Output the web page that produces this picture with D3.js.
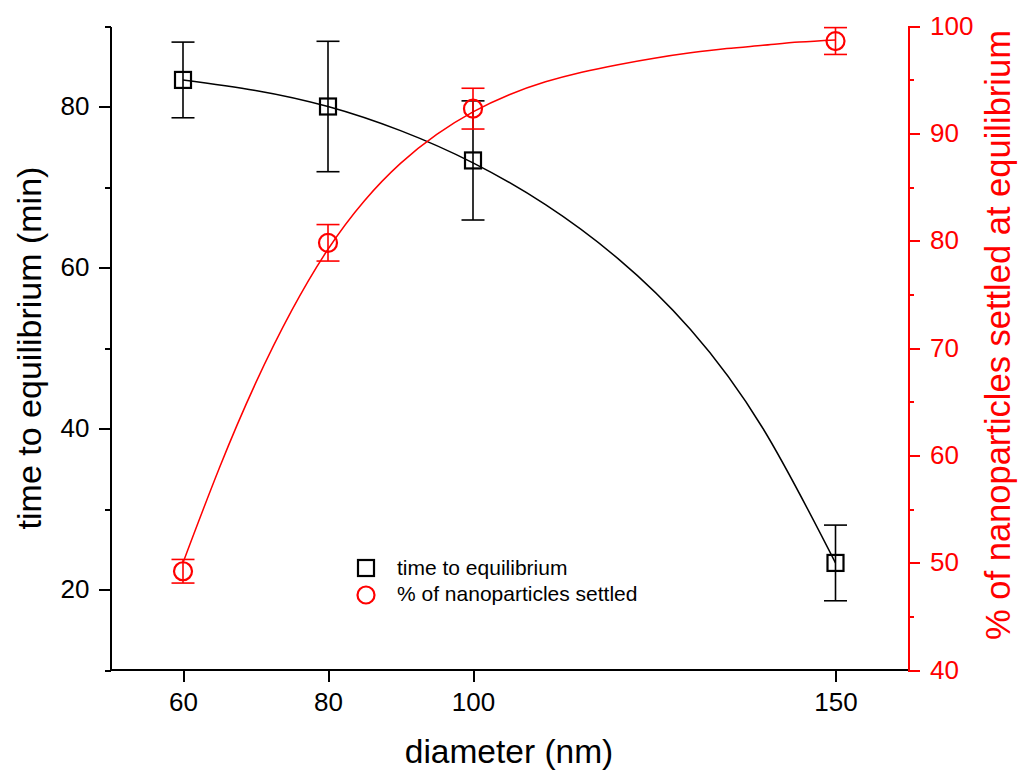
<!DOCTYPE html>
<html>
<head>
<meta charset="utf-8">
<script src="https://cdn.jsdelivr.net/npm/d3@7"></script>
<style>
  html, body { margin: 0; padding: 0; background: #fff; }
  svg { display: block; font-family: "Liberation Sans", Arial, sans-serif; }
</style>
</head>
<body>
<svg id="chart" width="1019" height="771"></svg>
<script>
// ---- data ----
const diameters = [60, 80, 100, 150];
const timeToEq = [83.3, 80.0, 73.3, 23.3];
const timeErr = [4.7, 8.1, 7.4, 4.7];
const settled = [49.2, 79.8, 92.3, 98.6];
const settledErr = [1.1, 1.7, 1.9, 1.25];

// fitted curves at evenly spaced diameters
const timeFitX = [60, 70, 80, 90, 100, 110, 120, 130, 140, 150];
const timeFitY = [83.3, 82.0, 80.0, 77.0, 73.0, 67.8, 61.1, 52.3, 40.0, 23.3];
const settledFitX = [60, 65, 70, 75, 80, 85, 90, 95, 100, 105, 110, 115, 120, 125, 130, 135, 140, 145, 150];
const settledFitY = [50.0, 58.8, 66.7, 73.5, 79.2, 83.7, 87.2, 89.9, 92.0, 93.6, 94.8, 95.7, 96.4, 97.0, 97.5, 97.9, 98.2, 98.5, 98.7];

const xTicks = [60, 80, 100, 150];
const yLeftMajor = [20, 40, 60, 80];
const yLeftMinor = [10, 30, 50, 70, 90];
const yRightMajor = [40, 50, 60, 70, 80, 90, 100];
const yRightMinor = [45, 55, 65, 75, 85, 95];

const RED = "#ff0000";

const svg = d3.select("#chart");

const x = d3.scaleLinear().domain([50, 160]).range([110.5, 908]);
const yL = d3.scaleLinear().domain([10, 90]).range([670, 26]);
const yR = d3.scaleLinear().domain([40, 100]).range([670, 26]);

const tickFont = "26px";

// ---- axes ----
const gx = svg.append("g").attr("transform", `translate(0,670)`)
  .call(d3.axisBottom(x).tickValues(xTicks).tickSize(12).tickSizeOuter(0).tickPadding(11).tickFormat(d3.format("d")));
gx.select(".domain").attr("d", `M${x.range()[0]},0H${x.range()[1]}`);

const gyl = svg.append("g").attr("transform", `translate(${x.range()[0]},0)`)
  .call(d3.axisLeft(yL).tickValues(yLeftMajor).tickSize(12).tickSizeOuter(0).tickPadding(9));
svg.append("g").attr("transform", `translate(${x.range()[0]},0)`)
  .call(d3.axisLeft(yL).tickValues(yLeftMinor).tickSize(6).tickSizeOuter(0).tickFormat(""))
  .select(".domain").remove();

const gyr = svg.append("g").attr("transform", `translate(${x.range()[1]},0)`)
  .call(d3.axisRight(yR).tickValues(yRightMajor).tickSize(12).tickSizeOuter(0).tickPadding(10));
const gyr2 = svg.append("g").attr("transform", `translate(${x.range()[1]},0)`)
  .call(d3.axisRight(yR).tickValues(yRightMinor).tickSize(6).tickSizeOuter(0).tickFormat(""));
gyr2.select(".domain").remove();

svg.selectAll(".domain, .tick line").attr("stroke-width", 2).attr("shape-rendering", "crispEdges");
svg.selectAll(".tick text").style("font-size", tickFont).attr("fill", "#000");
[gyr, gyr2].forEach(g => {
  g.selectAll(".domain, .tick line").attr("stroke", RED);
  g.selectAll(".tick text").attr("fill", RED);
});
svg.selectAll("g").attr("font-family", null);

// ---- fitted curves ----
const lineL = d3.line().x(d => x(d[0])).y(d => yL(d[1])).curve(d3.curveNatural);
const lineR = d3.line().x(d => x(d[0])).y(d => yR(d[1])).curve(d3.curveNatural);

svg.append("path")
  .datum(timeFitX.map((v, i) => [v, timeFitY[i]]))
  .attr("d", lineL).attr("fill", "none").attr("stroke", "#000").attr("stroke-width", 1.5);
svg.append("path")
  .datum(settledFitX.map((v, i) => [v, settledFitY[i]]))
  .attr("d", lineR).attr("fill", "none").attr("stroke", RED).attr("stroke-width", 1.5);

// ---- error bars ----
function errorBars(vals, errs, yScale, color) {
  const g = svg.append("g").attr("stroke", color).attr("stroke-width", 1.6).attr("fill", "none");
  const capW = 11.5;
  diameters.forEach((d, i) => {
    const cx = x(d), top = yScale(vals[i] + errs[i]), bot = yScale(vals[i] - errs[i]);
    g.append("line").attr("x1", cx).attr("x2", cx).attr("y1", top).attr("y2", bot);
    g.append("line").attr("x1", cx - capW).attr("x2", cx + capW).attr("y1", top).attr("y2", top);
    g.append("line").attr("x1", cx - capW).attr("x2", cx + capW).attr("y1", bot).attr("y2", bot);
  });
}
errorBars(timeToEq, timeErr, yL, "#000");
errorBars(settled, settledErr, yR, RED);

// ---- markers ----
const sq = 16;
svg.append("g").selectAll("rect").data(diameters).join("rect")
  .attr("x", d => x(d) - sq / 2)
  .attr("y", (d, i) => yL(timeToEq[i]) - sq / 2)
  .attr("width", sq).attr("height", sq)
  .attr("fill", "none").attr("stroke", "#000").attr("stroke-width", 2.2);

svg.append("g").selectAll("circle").data(diameters).join("circle")
  .attr("cx", d => x(d))
  .attr("cy", (d, i) => yR(settled[i]))
  .attr("r", 9)
  .attr("fill", "none").attr("stroke", RED).attr("stroke-width", 2.2);

// ---- legend ----
const leg = svg.append("g");
leg.append("rect").attr("x", 366 - 8).attr("y", 568 - 8).attr("width", 16).attr("height", 16)
  .attr("fill", "none").attr("stroke", "#000").attr("stroke-width", 2.2);
leg.append("circle").attr("cx", 366).attr("cy", 595).attr("r", 8.5)
  .attr("fill", "none").attr("stroke", RED).attr("stroke-width", 2.2);
leg.append("text").attr("x", 397).attr("y", 575).style("font-size", "21px").attr("fill", "#000")
  .text("time to equilibrium");
leg.append("text").attr("x", 397).attr("y", 601).style("font-size", "21px").attr("fill", "#000")
  .text("% of nanoparticles settled");

// ---- axis titles ----
svg.append("text")
  .attr("x", 509).attr("y", 763).attr("text-anchor", "middle")
  .style("font-size", "33.5px").attr("fill", "#000")
  .text("diameter (nm)");

svg.append("text")
  .attr("transform", "translate(41,348) rotate(-90)")
  .attr("text-anchor", "middle")
  .style("font-size", "34px").attr("fill", "#000")
  .text("time to equilibrium (min)");

svg.append("text")
  .attr("transform", "translate(1010,335) rotate(-90)")
  .attr("text-anchor", "middle")
  .style("font-size", "34.5px").attr("fill", RED)
  .text("% of nanoparticles settled at equilibrium");
</script>
</body>
</html>
